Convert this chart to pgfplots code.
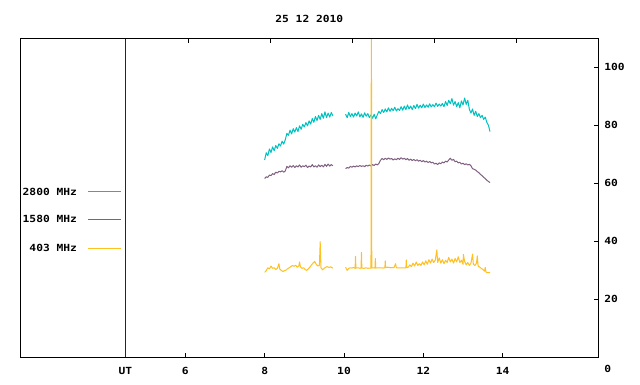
\documentclass[border=0pt]{standalone}
\usepackage{pgfplots}
\pgfplotsset{compat=1.18}
\usepackage{fontspec}
\newfontfamily\gpfont{DejaVu Sans Mono}[FakeStretch=1.15]
\definecolor{gcyan}{RGB}{0,192,192}
\definecolor{gpurp}{RGB}{128,96,128}
\definecolor{gorange}{RGB}{255,192,32}
\definecolor{gred}{RGB}{128,0,0}
\newcommand{\gp}{\gpfont\bfseries\fontsize{9.8bp}{11bp}\selectfont}
\begin{document}
\begin{tikzpicture}[x=1bp,y=1bp]
\path[use as bounding box] (0,0) rectangle (640,384);
\begin{axis}[
  at={(20.3bp,27bp)}, anchor=south west,
  scale only axis, width=578bp, height=318.7bp,
  xmin=1.841, xmax=16.41, ymin=0, ymax=110,
  axis line style={black, line width=0.9bp},
  tick style={black, line width=0.9bp},
  major tick length=4.5bp, tick align=inside,
  xtick={4.488,6,8,10,12,14}, xticklabels={UT,6,8,10,12,14},
  xtick pos=bottom,
  ytick={20,40,60,80,100}, ytick pos=right, yticklabel pos=right,
  extra y ticks={0}, extra y tick style={yticklabel style={yshift=-11.5bp}},
  xticklabel style={font=\gp, yshift=-7bp},
  yticklabel style={font=\gp, xshift=2.5bp},
  /pgf/number format/assume math mode=true,
  every axis plot/.append style={line width=1bp, line join=round},
]
\addplot[gred, line width=0.9bp] coordinates {(4.488,0) (4.488,110)};
% 2800 MHz
\addplot[gcyan] coordinates {
(8.00,68.0)(8.04,70.5)(8.08,69.5)(8.12,71.8)(8.16,70.6)(8.20,72.5)(8.24,71.2)(8.28,73.0)(8.32,72.0)(8.36,73.6)
(8.40,72.8)(8.44,74.5)(8.48,73.5)(8.52,75.0)(8.56,77.2)(8.60,76.5)(8.64,78.3)(8.68,77.0)(8.72,78.8)(8.76,77.6)
(8.80,79.2)(8.84,77.8)(8.88,79.8)(8.92,78.6)(8.96,80.3)(9.00,79.4)(9.04,80.9)(9.08,79.8)(9.12,81.5)(9.16,80.4)
(9.20,82.3)(9.24,81.0)(9.28,83.0)(9.32,81.6)(9.36,83.4)(9.40,82.0)(9.44,84.0)(9.48,82.4)(9.52,84.6)(9.56,82.6)
(9.60,84.2)(9.64,82.8)(9.68,84.4)(9.72,83.2)};
\addplot[gcyan] coordinates {
(10.04,83.8)(10.08,82.6)(10.12,84.4)(10.16,83.0)(10.20,84.0)(10.24,82.8)(10.28,84.2)(10.32,83.2)(10.36,84.6)(10.40,82.9)
(10.44,83.9)(10.48,82.7)(10.52,84.3)(10.56,83.1)(10.60,84.0)(10.64,82.6)(10.68,83.6)(10.72,82.4)(10.76,83.8)(10.80,82.2)
(10.84,83.6)(10.88,84.8)(10.92,84.0)(10.96,85.4)(11.00,84.4)(11.04,85.6)(11.08,84.6)(11.12,86.0)(11.16,84.8)(11.20,85.8)
(11.24,85.0)(11.28,86.2)(11.32,84.9)(11.36,85.7)(11.40,85.1)(11.44,86.4)(11.48,85.2)(11.52,86.6)(11.56,85.4)(11.60,87.0)
(11.64,85.6)(11.68,86.6)(11.72,85.4)(11.76,86.8)(11.80,85.7)(11.84,87.2)(11.88,85.9)(11.92,86.9)(11.96,86.0)(12.00,87.3)
(12.04,86.1)(12.08,87.0)(12.12,86.2)(12.16,87.4)(12.20,86.3)(12.24,87.1)(12.28,86.4)(12.32,87.6)(12.36,86.5)(12.40,87.3)
(12.44,86.6)(12.48,87.5)(12.52,86.4)(12.56,88.2)(12.60,86.8)(12.64,88.6)(12.68,87.4)(12.72,89.2)(12.76,86.9)(12.80,88.2)
(12.84,86.4)(12.88,87.8)(12.92,86.0)(12.96,88.4)(13.00,87.0)(13.04,89.4)(13.08,87.2)(13.12,88.6)(13.16,85.5)(13.20,84.2)
(13.24,85.6)(13.28,83.4)(13.32,84.8)(13.36,83.0)(13.40,84.0)(13.44,82.6)(13.48,83.4)(13.52,82.0)(13.56,82.8)(13.60,81.0)
(13.64,80.0)(13.68,77.8)};
% 1580 MHz
\addplot[gpurp] coordinates {
(8.00,61.6)(8.04,62.2)(8.08,62.0)(8.12,62.8)(8.16,62.6)(8.20,63.3)(8.24,63.0)(8.28,63.8)(8.32,63.5)(8.36,64.1)
(8.40,63.9)(8.44,64.3)(8.48,63.8)(8.52,64.2)(8.56,65.8)(8.60,65.3)(8.64,66.0)(8.68,65.5)(8.72,66.1)(8.76,65.4)
(8.80,66.0)(8.84,65.6)(8.88,66.3)(8.92,65.5)(8.96,66.0)(9.00,65.7)(9.04,66.2)(9.08,65.4)(9.12,65.9)(9.16,65.6)
(9.20,66.4)(9.24,65.6)(9.28,66.0)(9.32,65.5)(9.36,66.3)(9.40,65.7)(9.44,66.2)(9.48,65.6)(9.52,66.5)(9.56,65.8)
(9.60,66.6)(9.64,65.9)(9.68,66.4)(9.72,66.0)};
\addplot[gpurp] coordinates {
(10.04,65.0)(10.08,65.4)(10.12,65.2)(10.16,65.8)(10.20,65.5)(10.24,65.9)(10.28,65.6)(10.32,66.0)(10.36,65.7)(10.40,66.1)
(10.44,65.8)(10.48,66.0)(10.52,65.7)(10.56,66.2)(10.60,65.9)(10.64,66.3)(10.68,65.9)(10.72,66.4)(10.76,66.1)(10.80,66.6)
(10.84,66.3)(10.88,66.8)(10.92,67.9)(10.96,68.5)(11.00,68.1)(11.04,68.6)(11.08,68.2)(11.12,68.7)(11.16,68.3)(11.20,68.5)
(11.24,68.0)(11.28,68.4)(11.32,68.1)(11.36,68.6)(11.40,68.2)(11.44,68.8)(11.48,68.3)(11.52,68.6)(11.56,68.1)(11.60,68.5)
(11.64,67.9)(11.68,68.3)(11.72,67.8)(11.76,68.2)(11.80,67.7)(11.84,68.1)(11.88,67.6)(11.92,67.9)(11.96,67.4)(12.00,67.8)
(12.04,67.3)(12.08,67.6)(12.12,67.1)(12.16,67.5)(12.20,67.0)(12.24,67.2)(12.28,66.6)(12.32,66.9)(12.36,66.4)(12.40,67.0)
(12.44,66.7)(12.48,67.3)(12.52,67.0)(12.56,67.6)(12.60,67.3)(12.64,68.0)(12.68,68.6)(12.72,67.9)(12.76,68.2)(12.80,67.4)
(12.84,67.6)(12.88,67.0)(12.92,67.2)(12.96,66.6)(13.00,66.9)(13.04,66.4)(13.08,66.7)(13.12,66.3)(13.16,66.5)(13.20,66.0)
(13.24,65.0)(13.28,64.8)(13.32,64.5)(13.36,64.0)(13.40,63.6)(13.44,63.0)(13.48,62.6)(13.52,62.0)(13.56,61.6)(13.60,61.0)
(13.64,60.6)(13.68,60.2)};
% 403 MHz
\addplot[gorange] coordinates {
(8.00,29.2)(8.04,29.8)(8.08,30.8)(8.12,30.4)(8.16,31.4)(8.20,30.6)(8.24,30.8)(8.28,30.2)(8.32,30.6)(8.36,32.2)
(8.38,30.4)(8.42,29.9)(8.46,29.5)(8.50,29.8)(8.54,30.0)(8.58,30.5)(8.62,30.8)(8.66,31.2)(8.70,31.6)(8.74,31.3)
(8.78,31.7)(8.82,31.0)(8.86,31.4)(8.88,32.8)(8.90,31.2)(8.94,30.6)(8.98,30.8)(9.02,30.2)(9.06,29.9)(9.10,30.4)
(9.14,31.0)(9.18,31.8)(9.22,32.4)(9.26,33.0)(9.30,32.0)(9.34,31.4)(9.38,31.6)(9.40,39.8)(9.42,30.8)(9.46,30.1)
(9.50,30.6)(9.54,31.0)(9.58,31.2)(9.62,30.9)(9.66,31.1)(9.72,30.7)};
\addplot[gorange] coordinates {
(10.04,31.0)(10.06,30.4)(10.08,29.9)(10.12,30.6)(10.16,30.8)(10.20,30.7)(10.24,30.9)(10.28,30.6)(10.29,34.7)(10.30,30.7)
(10.36,30.8)(10.40,30.6)(10.43,30.7)(10.44,36.1)(10.45,30.7)(10.50,30.6)(10.56,30.8)(10.60,30.6)(10.64,30.7)(10.68,30.7)
(10.69,125)(10.70,30.7)(10.74,30.8)(10.78,30.7)(10.79,34.0)(10.80,30.7)(10.86,30.8)(10.92,30.8)(10.98,30.7)(11.03,30.8)
(11.04,33.2)(11.05,30.8)(11.10,31.0)(11.14,30.9)(11.18,30.8)(11.22,30.9)(11.26,30.8)(11.30,32.2)(11.32,30.8)(11.38,30.8)
(11.44,30.8)(11.50,30.8)(11.56,30.8)(11.57,33.5)(11.58,30.8)(11.62,31.0)(11.66,31.8)(11.70,31.2)(11.74,32.4)(11.78,31.4)
(11.82,32.8)(11.86,31.6)(11.90,32.2)(11.94,31.6)(11.98,32.8)(12.02,31.8)(12.06,33.2)(12.10,32.0)(12.14,33.6)(12.18,32.4)
(12.22,33.8)(12.26,32.6)(12.30,33.4)(12.34,37.0)(12.36,32.6)(12.40,34.2)(12.44,32.4)(12.48,33.6)(12.52,32.2)(12.56,33.4)
(12.60,32.6)(12.64,34.4)(12.68,32.8)(12.72,33.8)(12.76,32.4)(12.80,34.0)(12.84,32.8)(12.88,34.6)(12.92,32.6)(12.96,33.4)
(13.00,32.0)(13.01,35.4)(13.04,33.0)(13.08,31.8)(13.12,32.6)(13.16,31.6)(13.20,32.4)(13.24,35.5)(13.26,32.0)(13.30,31.6)
(13.34,32.4)(13.36,34.9)(13.38,31.4)(13.42,31.0)(13.46,30.6)(13.50,30.2)(13.54,29.6)(13.56,30.9)(13.58,29.3)(13.62,29.1)
(13.68,29.1)};
\end{axis}
\begin{axis}[
  at={(20.3bp,27bp)}, anchor=south west,
  scale only axis, width=578bp, height=318.7bp,
  xmin=1.841, xmax=16.41, ymin=0, ymax=110,
  hide y axis, axis x line*=top,
  axis line style={black, line width=0.9bp, -},
  tick style={black, line width=0.9bp},
  major tick length=4.5bp, tick align=inside,
  xtick={6.076,8.142,10.209,12.276,14.343}, xticklabels={},
]
\addplot[draw=none] coordinates {(6,0)};
\end{axis}
\node[font=\gp] at (309.3,365) {25 12 2010};
\node[font=\gp, anchor=east] at (80.5,192.3) {2800 MHz};
\node[font=\gp, anchor=east] at (80.5,164.7) {1580 MHz};
\node[font=\gp, anchor=east] at (80.5,135.7) {403 MHz};
\draw[gcyan, line width=1bp] (88,192.3) -- (120.7,192.3);
\draw[gpurp, line width=1bp] (88,164.7) -- (120.7,164.7);
\draw[gorange, line width=1bp] (88,135.7) -- (120.7,135.7);
\end{tikzpicture}
\end{document}
